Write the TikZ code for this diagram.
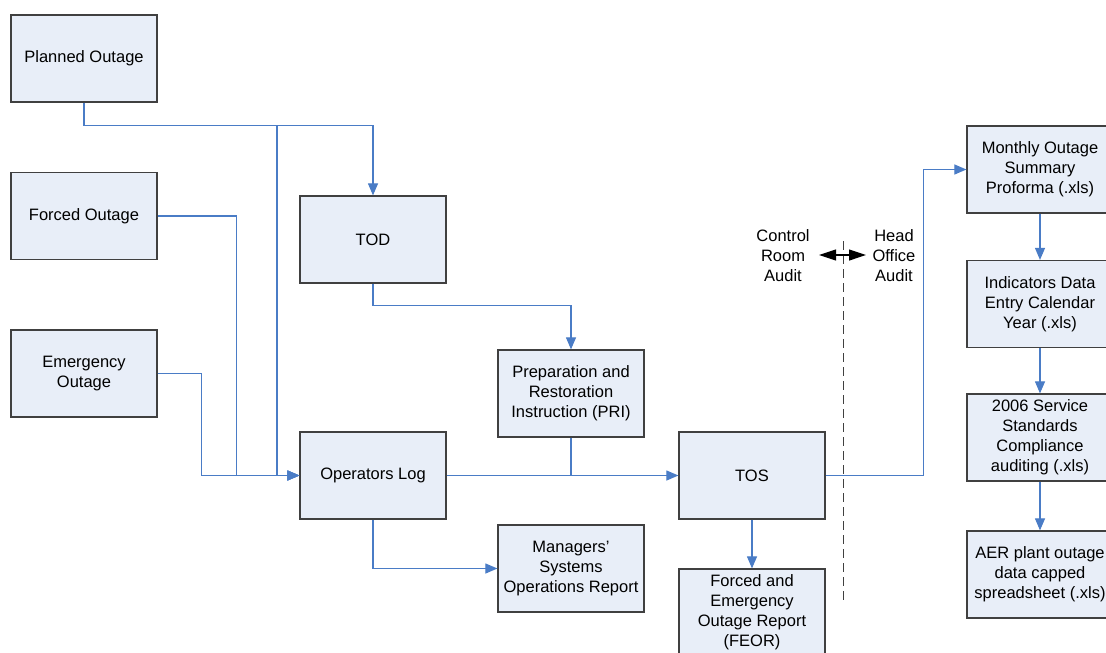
\documentclass[tikz,border=0pt]{standalone}
\usepackage{fontspec}
\setmainfont{Liberation Sans}
\usetikzlibrary{arrows.meta}
\definecolor{boxfill}{HTML}{E8EEF8}
\definecolor{boxline}{HTML}{404040}
\definecolor{linkblue}{HTML}{4A7CC6}
\begin{document}
\begin{tikzpicture}[x=1pt,y=-1pt,font=\fontsize{16.5}{20}\selectfont]
	\tikzset{box/.style={draw=boxline,fill=boxfill,line width=1.2pt,minimum width=146pt,minimum height=87pt,align=center,inner sep=0pt},
		link/.style={draw=linkblue,line width=1.1pt,-{Triangle[length=12pt,width=10pt]}},
		plain/.style={draw=linkblue,line width=1.1pt}}
	\useasboundingbox (0,0) rectangle (1106,653);
	\clip (0,0) rectangle (1106,653);
	% left column
	\node[box] (po) at (84,58.5) {Planned Outage};
	\node[box] (fo) at (84,216) {Forced Outage};
	\node[box] (eo) at (84,373.5) {Emergency\\Outage};
	% middle
	\node[box] (tod) at (373,239.5) {TOD};
	\node[box] (ol) at (373,475.5) {Operators Log};
	\node[box] (pri) at (571,393.5) {Preparation and\\Restoration\\Instruction (PRI)};
	\node[box] (mg) at (571,568.5) {Managers'\\Systems\\Operations Report};
	\node[box] (tos) at (752,475.5) {TOS};
	\node[box] (fe) at (752,612.5) {Forced and\\Emergency\\Outage Report\\(FEOR)};
	% right column
	\node[box] (mo) at (1040,169.5) {Monthly Outage\\Summary\\Proforma (.xls)};
	\node[box] (id) at (1040,304) {Indicators Data\\Entry Calendar\\Year (.xls)};
	\node[box] (ss) at (1040,437.5) {2006 Service\\Standards\\Compliance\\auditing (.xls)};
	\node[box] (aer) at (1040,574.5) {AER plant outage\\data capped\\spreadsheet (.xls)};
	% audit split
	\node[align=center] (cr) at (783,256) {Control\\Room\\Audit};
	\node[align=center] (ho) at (894,256) {Head\\Office\\Audit};
	\coordinate (ua) at (843,241);
	\coordinate (ub) at (843,604);
	\coordinate (al) at (819,255);
	\coordinate (ar) at (866,255);
	\draw[boxline,line width=1pt,dash pattern=on 9pt off 5pt] (ua)--(ub);
	\draw[black,line width=1.2pt,{Triangle[length=17pt,width=11pt]}-{Triangle[length=17pt,width=11pt]}] (al)--(ar);
	% connectors
	\coordinate (j1) at (277,125);
	\draw[link] (po.south) -- ++(0,23) -| (tod.north);
	\draw[link] (j1) |- (ol.west);
	\draw[link] (fo.east) -- ++(79,0) |- (ol.west);
	\draw[link] (eo.east) -- ++(44,0) |- (ol.west);
	\draw[link] (tod.south) -- ++(0,22) -| (pri.north);
	\draw[link] (ol.east) -- (tos.west);
	\draw[plain] (pri.south) -- (pri.south |- ol.east);
	\draw[link] (ol.south) |- (mg.west);
	\draw[link] (tos.south) -- (fe.north);
	\draw[link] (tos.east) -- ++(98,0) |- (mo.west);
	\foreach\a/\b in {mo/id,id/ss,ss/aer}{\draw[link] (\a.south) -- (\b.north);}
\end{tikzpicture}
\end{document}
